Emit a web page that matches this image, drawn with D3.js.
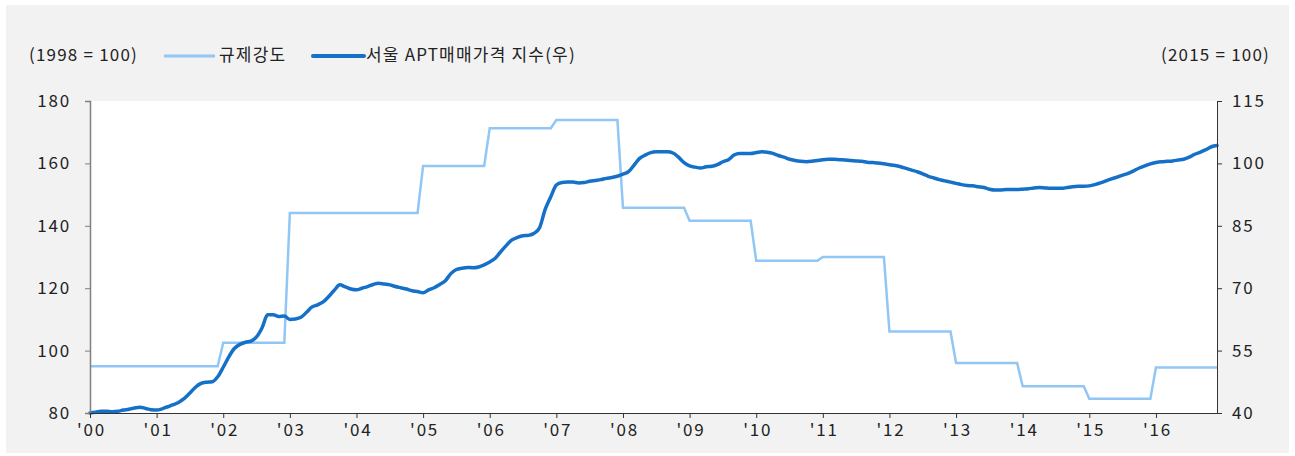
<!DOCTYPE html>
<html>
<head>
<meta charset="UTF-8">
<title>규제강도 vs 서울 APT매매가격 지수</title>
<script src="https://d3js.org/d3.v7.min.js"></script>
<style>
  body { margin: 0; background: #ffffff; }
  text { font-family: "Noto Sans CJK KR", "Noto Sans", sans-serif; fill: #222; }
</style>
</head>
<body>
<div id="chart"></div>
<script>
// year labels on the x axis (one tick every 12 months, starting Jan 2000)
var yearLabels = ["'00", "'01", "'02", "'03", "'04", "'05", "'06", "'07", "'08",
                  "'09", "'10", "'11", "'12", "'13", "'14", "'15", "'16"];

// 규제강도 (1998 = 100): month index where each level starts, and the level
var regStartMonth = [0, 24, 36, 60, 72, 84, 96, 108, 120, 132, 144, 156, 168, 180, 192];
var regLevel = [95.0, 102.5, 144.1, 159.2, 171.3, 173.9, 145.8, 141.6, 128.8, 130.0,
                106.1, 96.0, 88.6, 84.6, 94.6];

// 서울 APT매매가격 지수 (2015 = 100), monthly Jan 2000 - Dec 2016
var priceIndex = [
  40.0, 40.2, 40.4, 40.4, 40.3, 40.4, 40.7, 40.9, 41.2, 41.4, 41.1, 40.8,   // 2000
  40.7, 41.0, 41.5, 42.0, 42.6, 43.5, 44.8, 46.2, 47.1, 47.4, 47.5, 48.7,   // 2001
  51.0, 53.5, 55.5, 56.5, 57.0, 57.3, 58.3, 60.5, 63.6, 63.6, 63.2, 63.3,   // 2002
  62.5, 62.6, 63.0, 64.2, 65.5, 66.0, 66.7, 68.0, 69.5, 70.8, 70.3, 69.8,   // 2003
  69.6, 70.0, 70.4, 70.9, 71.2, 71.0, 70.8, 70.4, 70.1, 69.8, 69.4, 69.2,   // 2004
  68.9, 69.6, 70.1, 70.9, 71.8, 73.5, 74.5, 74.8, 75.0, 74.9, 75.1, 75.6,   // 2005
  76.3, 77.2, 78.8, 80.3, 81.6, 82.2, 82.6, 82.7, 83.2, 84.6, 89.0, 92.0,   // 2006
  94.8, 95.4, 95.5, 95.5, 95.3, 95.4, 95.7, 95.9, 96.1, 96.4, 96.6, 96.9,   // 2007
  97.4, 98.0, 99.6, 101.2, 102.0, 102.6, 102.8, 102.8, 102.8, 102.5, 101.5, 100.2, // 2008
  99.4, 99.1, 98.9, 99.2, 99.3, 99.7, 100.4, 100.9, 102.0, 102.4, 102.4, 102.4,   // 2009
  102.6, 102.8, 102.7, 102.4, 101.9, 101.5, 101.0, 100.7, 100.5, 100.4, 100.5, 100.7, // 2010
  100.9, 101.0, 101.0, 100.9, 100.8, 100.7, 100.6, 100.5, 100.3, 100.2, 100.1, 99.9,  // 2011
  99.7, 99.5, 99.2, 98.8, 98.4, 98.0, 97.5, 96.9, 96.5, 96.1, 95.8, 95.5,   // 2012
  95.2, 94.9, 94.7, 94.6, 94.4, 94.2, 93.8, 93.6, 93.6, 93.7, 93.7, 93.7,   // 2013
  93.8, 93.9, 94.1, 94.2, 94.1, 94.0, 94.0, 94.0, 94.2, 94.4, 94.5, 94.5,   // 2014
  94.6, 94.9, 95.3, 95.8, 96.3, 96.7, 97.2, 97.6, 98.2, 98.9, 99.4, 99.9,   // 2015
  100.2, 100.4, 100.5, 100.6, 100.8, 101.0, 101.5, 102.2, 102.7, 103.3, 104.0, 104.3 // 2016
];

var leftTicks = [80, 100, 120, 140, 160, 180];
var rightTicks = [40, 55, 70, 85, 100, 115];

var W = 1295, H = 456;
var margin = { top: 101, right: 78, bottom: 43, left: 90 };

var svg = d3.select("#chart").append("svg")
    .attr("width", W)
    .attr("height", H);

// gray panel
svg.append("rect")
    .attr("x", 6).attr("y", 5)
    .attr("width", 1283).attr("height", 448)
    .attr("fill", "#f2f2f2");

var x = d3.scaleLinear()
    .domain([0, priceIndex.length - 1])
    .range([margin.left, W - margin.right]);
var yL = d3.scaleLinear().domain([80, 180]).range([H - margin.bottom, margin.top]);
var yR = d3.scaleLinear().domain([40, 115]).range([H - margin.bottom, margin.top]);

// white plot area
svg.append("rect")
    .attr("x", x.range()[0]).attr("y", margin.top)
    .attr("width", x.range()[1] - x.range()[0])
    .attr("height", H - margin.bottom - margin.top)
    .attr("fill", "#ffffff");

// regulation step line
var regPts = [];
regStartMonth.forEach(function (s, k) {
  var e = k < regStartMonth.length - 1 ? regStartMonth[k + 1] - 1 : priceIndex.length - 1;
  regPts.push([s, regLevel[k]]);
  regPts.push([e, regLevel[k]]);
});

svg.append("path")
    .datum(regPts)
    .attr("fill", "none")
    .attr("stroke", "#92c6f4")
    .attr("stroke-width", 2.5)
    .attr("d", d3.line()
        .x(function (d) { return x(d[0]); })
        .y(function (d) { return yL(d[1]); }));

// price index line
svg.append("path")
    .datum(priceIndex)
    .attr("fill", "none")
    .attr("stroke", "#1570c8")
    .attr("stroke-width", 3.5)
    .attr("stroke-linecap", "round")
    .attr("stroke-linejoin", "round")
    .attr("d", d3.line()
        .x(function (d, i) { return x(i); })
        .y(function (d) { return yR(d); })
        .curve(d3.curveMonotoneX));

// axes
var axL = svg.append("g")
    .attr("transform", "translate(" + margin.left + ",0)")
    .call(d3.axisLeft(yL).tickValues(leftTicks).tickSize(5).tickPadding(14));
axL.select(".domain").attr("stroke", "#7f7f7f").attr("stroke-width", 1.5);
axL.selectAll(".tick line").attr("stroke", "#7f7f7f");

var axR = svg.append("g")
    .attr("transform", "translate(" + (W - margin.right) + ",0)")
    .call(d3.axisRight(yR).tickValues(rightTicks).tickSize(5).tickPadding(10));
axR.select(".domain").attr("stroke", "#333");
axR.selectAll(".tick line").attr("stroke", "#333");

var axB = svg.append("g")
    .attr("transform", "translate(0," + (H - margin.bottom) + ")")
    .call(d3.axisBottom(x)
        .tickValues(yearLabels.map(function (d, i) { return i * 12; }))
        .tickFormat(function (d) { return yearLabels[d / 12]; })
        .tickSize(5).tickPadding(6)
        .tickSizeOuter(0));
axB.select(".domain").attr("stroke", "#333");
axB.selectAll(".tick line").attr("stroke", "#333");

svg.selectAll(".tick text")
    .style("font-size", "17px")
    .style("letter-spacing", "1.8px")
    .style("font-family", "'Noto Sans CJK KR', 'Noto Sans', sans-serif")
    .attr("fill", "#222");
axB.selectAll(".tick text").attr("dx", "1px");

// legend
var lg = svg.append("g").style("font-size", "17px").style("letter-spacing", "1.2px");
lg.append("text").attr("x", 29).attr("y", 55).attr("dy", "0.35em").text("(1998 = 100)");
lg.append("line").attr("x1", 164).attr("x2", 215).attr("y1", 56).attr("y2", 56)
    .attr("stroke", "#92c6f4").attr("stroke-width", 3);
lg.append("text").attr("x", 219).attr("y", 55).attr("dy", "0.35em").text("규제강도");
lg.append("line").attr("x1", 313).attr("x2", 364).attr("y1", 56).attr("y2", 56)
    .attr("stroke", "#1570c8").attr("stroke-width", 4).attr("stroke-linecap", "round");
lg.append("text").attr("x", 366).attr("y", 55).attr("dy", "0.35em").text("서울 APT매매가격 지수(우)");
lg.append("text").attr("x", 1270).attr("y", 55).attr("dy", "0.35em")
    .attr("text-anchor", "end").text("(2015 = 100)");
</script>
</body>
</html>
